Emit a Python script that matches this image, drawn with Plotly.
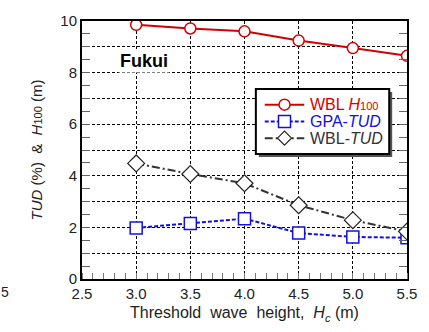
import plotly.graph_objects as go

hc = [3.0, 3.5, 4.0, 4.5, 5.0, 5.5]
wbl_h100 = [9.85, 9.71, 9.60, 9.24, 8.95, 8.65]
gpa_tud = [1.98, 2.15, 2.34, 1.78, 1.63, 1.60]
wbl_tud = [4.48, 4.07, 3.71, 2.86, 2.28, 1.84]

x_ticks = [2.5, 3.0, 3.5, 4.0, 4.5, 5.0, 5.5]
x_labels = ["2.5", "3.0", "3.5", "4.0", "4.5", "5.0", "5.5"]

series_names = [
    "WBL <i>H</i><span style='font-size:11px'>100</span>",
    "GPA-<i>TUD</i>",
    "WBL-<i>TUD</i>",
]
series_colors = ["#d40000", "#1010e0", "#333333"]
series_dash = ["solid", "4px,2px", "8px,3px,2px,3px"]

FONT = "Liberation Sans, Arial, sans-serif"
W, H = 429, 332
ML, MR, MT, MB = 82, 18, 17, 53
PW, PH = W - ML - MR, H - MT - MB


def px(x):
    return (x - ML) / PW


def py(y):
    return (H - MB - y) / PH


fig = go.Figure()
fig.add_trace(go.Scatter(
    x=hc, y=wbl_h100, mode="lines+markers", showlegend=False,
    line=dict(color=series_colors[0], width=2),
    marker=dict(symbol="circle", size=11, color="white", line=dict(color=series_colors[0], width=1.5)),
))
fig.add_trace(go.Scatter(
    x=hc, y=gpa_tud, mode="lines+markers", showlegend=False,
    line=dict(color=series_colors[1], width=2, dash=series_dash[1]),
    marker=dict(symbol="square", size=12, color="white", line=dict(color=series_colors[1], width=1.5)),
))
fig.add_trace(go.Scatter(
    x=hc, y=wbl_tud, mode="lines+markers", showlegend=False,
    line=dict(color=series_colors[2], width=2, dash=series_dash[2]),
    marker=dict(symbol="diamond", size=13, color="white", line=dict(color="#222222", width=1.2)),
))

# manual legend box with shadow
shapes = []
shapes.append(dict(type="rect", xref="paper", yref="paper", layer="above",
                   x0=px(261), x1=px(396), y0=py(155), y1=py(89),
                   fillcolor="#555555", line=dict(width=0)))
shapes.append(dict(type="rect", xref="paper", yref="paper", layer="above",
                   x0=px(258), x1=px(393), y0=py(152), y1=py(86),
                   fillcolor="white", line=dict(color="black", width=2)))
rows = [102, 119, 136]
for i, ry in enumerate(rows):
    shapes.append(dict(type="line", xref="paper", yref="paper", layer="above",
                       x0=px(267), x1=px(307), y0=py(ry), y1=py(ry),
                       line=dict(color=series_colors[i], width=2, dash=series_dash[i])))
shapes.append(dict(type="circle", xref="paper", yref="paper", layer="above",
                   xsizemode="pixel", ysizemode="pixel", xanchor=px(287), yanchor=py(rows[0]),
                   x0=-5.5, x1=5.5, y0=-5.5, y1=5.5,
                   fillcolor="white", line=dict(color=series_colors[0], width=1.5)))
shapes.append(dict(type="rect", xref="paper", yref="paper", layer="above",
                   xsizemode="pixel", ysizemode="pixel", xanchor=px(287), yanchor=py(rows[1]),
                   x0=-6, x1=6, y0=-6, y1=6,
                   fillcolor="white", line=dict(color=series_colors[1], width=1.5)))
shapes.append(dict(type="path", xref="paper", yref="paper", layer="above",
                   xsizemode="pixel", ysizemode="pixel", xanchor=px(287), yanchor=py(rows[2]),
                   path="M0,-7 L7,0 L0,7 L-7,0 Z",
                   fillcolor="white", line=dict(color="#222222", width=1.2)))

annotations = []
for i, ry in enumerate(rows):
    annotations.append(dict(x=px(311), y=py(ry), xref="paper", yref="paper",
                            xanchor="left", yanchor="middle", showarrow=False,
                            text=series_names[i],
                            font=dict(family=FONT, size=16, color=series_colors[i])))
annotations.append(dict(x=3.07, y=8.45, xref="x", yref="y", text="<b>Fukui</b>",
                        showarrow=False, bgcolor="white",
                        font=dict(family=FONT, size=18, color="black")))
annotations.append(dict(x=px(-2), y=py(292), xref="paper", yref="paper", text="5",
                        showarrow=False, xanchor="left", yanchor="middle",
                        font=dict(family=FONT, size=14, color="#222")))

fig.update_layout(
    width=W, height=H,
    margin=dict(l=ML, r=MR, t=MT, b=MB),
    paper_bgcolor="white", plot_bgcolor="white",
    font=dict(family=FONT, size=14, color="#222"),
    showlegend=False,
    shapes=shapes,
    annotations=annotations,
    xaxis=dict(range=[2.5, 5.5], tickvals=x_ticks, ticktext=x_labels,
               showline=True, linecolor="black", linewidth=2, mirror=True,
               ticks="", showgrid=True, gridcolor="black", griddash="3px,2px", gridwidth=1,
               zeroline=False,
               minor=dict(dtick=0.1, ticks="inside", ticklen=6, tickcolor="#777", showgrid=False),
               title=dict(text="Threshold  wave  height,  <i>H</i><sub><i>c</i></sub> (m)",
                          font=dict(size=16), standoff=6),
               tickfont=dict(size=15)),
    yaxis=dict(range=[0, 10], dtick=2, tick0=0,
               showline=True, linecolor="black", linewidth=2, mirror=True,
               ticks="", showgrid=True, gridcolor="black", griddash="3px,2px", gridwidth=1,
               zeroline=False,
               minor=dict(dtick=1, ticks="", showgrid=True, gridcolor="black",
                          griddash="3px,2px", gridwidth=1),
               title=dict(text="<i>TUD</i> (%)  &  <i>H</i><span style='font-size:11px'>100</span> (m)",
                          font=dict(size=15), standoff=14),
               tickfont=dict(size=15)),
    yaxis2=dict(range=[0, 10], overlaying="y", side="left", dtick=0.5, tick0=0,
                showticklabels=False, ticks="inside", ticklen=8, tickcolor="#666",
                showline=False, mirror="ticks", showgrid=False, zeroline=False),
)
fig.add_trace(go.Scatter(x=hc, y=wbl_tud, yaxis="y2", mode="lines",
                         line=dict(width=0), hoverinfo="skip", showlegend=False,
                         opacity=0))

fig.write_html("out.html")
